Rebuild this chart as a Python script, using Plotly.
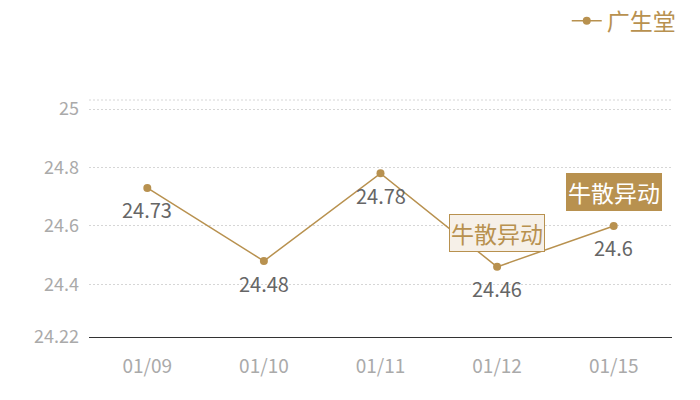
import plotly.graph_objects as go

dates = ["01/09", "01/10", "01/11", "01/12", "01/15"]
prices = [24.73, 24.48, 24.78, 24.46, 24.6]
label_texts = ["24.73", "24.48", "24.78", "24.46", "24.6"]
y_ticks = [24.22, 24.4, 24.6, 24.8, 25]
event_dates = ["01/12", "01/15"]
event_values = [24.46, 24.6]
event_text = "牛散异动"

gold = "#b8914f"
font = "Noto Sans CJK SC"

fig = go.Figure()
fig.add_trace(go.Scatter(
    x=dates, y=prices, mode="lines+markers", name="广生堂",
    line=dict(color=gold, width=1.5),
    marker=dict(color=gold, size=8),
))

annotations = []
for d, v, t in zip(dates, prices, label_texts):
    annotations.append(dict(x=d, y=v, xref="x", yref="y", text=t, showarrow=False,
                            yshift=-22, font=dict(size=20, color="#666666", family=font)))

styles = [
    dict(bgcolor="#f6f0e8", bordercolor=gold, font=dict(size=23, color=gold, family=font)),
    dict(bgcolor=gold, bordercolor=gold, font=dict(size=23, color="#ffffff", family=font)),
]
for d, v, s in zip(event_dates, event_values, styles):
    annotations.append(dict(x=d, y=v, xref="x", yref="y", text=event_text,
                            showarrow=False, yshift=34, borderwidth=1, borderpad=1, **s))

fig.update_layout(
    width=692, height=392,
    margin=dict(l=81, r=28, t=92, b=63, autoexpand=False),
    paper_bgcolor="white", plot_bgcolor="white",
    font=dict(family=font),
    showlegend=True,
    legend=dict(x=1.015, y=1.334, xref="paper", yref="paper", xanchor="right", yanchor="middle",
                font=dict(size=23, color=gold, family=font), bgcolor="rgba(0,0,0,0)",
                itemwidth=30),
    annotations=annotations,
    xaxis=dict(type="category", range=[-0.5, 4.5], showgrid=False, zeroline=False,
               showline=True, linecolor="#333333", linewidth=1,
               ticks="", tickfont=dict(size=19, color="#aaaaaa", family=font), ticklabelstandoff=12),
    yaxis=dict(range=[24.22, 25.031], tickvals=y_ticks, ticktext=[str(t) for t in y_ticks],
               showgrid=True, gridcolor="#d6d6d6", griddash="2px,2px", gridwidth=1,
               zeroline=False, showline=False, ticks="",
               tickfont=dict(size=18, color="#aaaaaa", family=font), ticklabelstandoff=9),
    shapes=[dict(type="line", xref="paper", yref="paper", x0=0, x1=1, y0=1, y1=1,
                 line=dict(color="#d6d6d6", width=1, dash="2px,2px"), layer="below")],
)

fig.write_html("out.html")
